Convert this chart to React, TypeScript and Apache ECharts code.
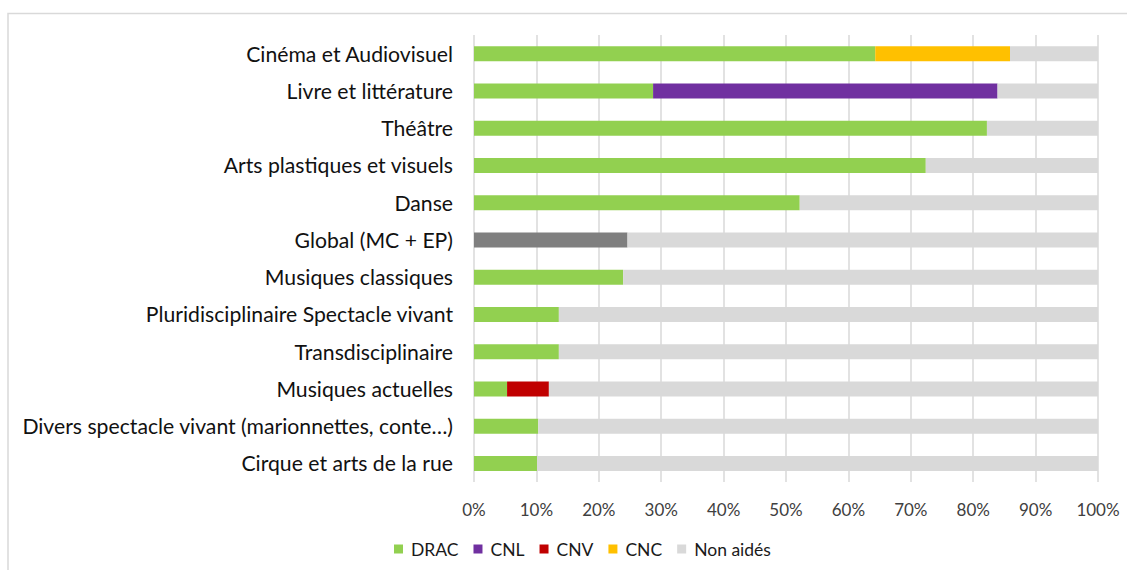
import React, { useEffect, useRef } from "react";
import * as echarts from "echarts";

const categories = [
  "Cinéma et Audiovisuel",
  "Livre et littérature",
  "Théâtre",
  "Arts plastiques et visuels",
  "Danse",
  "Global (MC + EP)",
  "Musiques classiques",
  "Pluridisciplinaire Spectacle vivant",
  "Transdisciplinaire",
  "Musiques actuelles",
  "Divers spectacle vivant (marionnettes, conte…)",
  "Cirque et arts de la rue",
];

const seriesNames = ["DRAC", "CNL", "CNV", "CNC", "Non aidés"];
const dracValues = [64.3, 28.7, 82.2, 72.4, 52.2, 24.6, 23.9, 13.6, 13.6, 5.3, 10.3, 10.1];
const cnlValues = [0, 55.2, 0, 0, 0, 0, 0, 0, 0, 0, 0, 0];
const cnvValues = [0, 0, 0, 0, 0, 0, 0, 0, 0, 6.7, 0, 0];
const cncValues = [21.6, 0, 0, 0, 0, 0, 0, 0, 0, 0, 0, 0];
const nonAidesValues = [14.1, 16.1, 17.8, 27.6, 47.8, 75.4, 76.1, 86.4, 86.4, 88.0, 89.7, 89.9];
const xTicks = [0, 10, 20, 30, 40, 50, 60, 70, 80, 90, 100];

const colors = ["#92d050", "#7030a0", "#c00000", "#ffc000", "#d9d9d9"];
const globalCategory = "Global (MC + EP)";
const globalColor = "#7f7f7f";
const FONT = "Lato";

export default function App() {
  const ref = useRef<HTMLDivElement>(null);
  useEffect(() => {
    if (!ref.current) return;
    const chart = echarts.init(ref.current, null, { renderer: "svg" });
    const valuesList = [dracValues, cnlValues, cnvValues, cncValues, nonAidesValues];
    const series = seriesNames.map((name, si) => ({
      name,
      type: "bar",
      stack: "total",
      barWidth: 15,
      itemStyle: { color: colors[si] },
      emphasis: { disabled: true },
      data: valuesList[si].map((v, i) =>
        si === 0 && categories[i] === globalCategory
          ? { value: v, itemStyle: { color: globalColor } }
          : v
      ),
    }));
    chart.setOption({
      animation: false,
      backgroundColor: "#ffffff",
      textStyle: { fontFamily: FONT },
      graphic: [
        {
          type: "rect",
          shape: { x: 8, y: 13.5, width: 1300, height: 700 },
          style: { fill: "none", stroke: "#d9d9d9", lineWidth: 1.5 },
          silent: true,
        },
      ],
      grid: { left: 474, right: 29, top: 35, bottom: 88 },
      legend: {
        left: 389,
        top: 535,
        itemWidth: 9,
        itemHeight: 9,
        itemGap: 15,
        icon: "rect",
        data: seriesNames,
        textStyle: { fontFamily: FONT, fontSize: 17.5, color: "#1a1a1a", padding: [0, 0, 0, 3] },
      },
      xAxis: {
        type: "value",
        min: xTicks[0],
        max: xTicks[xTicks.length - 1],
        interval: 10,
        axisLine: { show: false },
        axisTick: { show: false },
        axisLabel: {
          formatter: (v: number) => `${v}%`,
          fontFamily: FONT,
          fontSize: 17,
          color: "#404040",
          margin: 19,
        },
        splitLine: { show: true, lineStyle: { color: "#d9d9d9", width: 1.5 } },
      },
      yAxis: {
        type: "category",
        inverse: true,
        data: categories,
        axisLine: { show: false },
        axisTick: { show: false },
        axisLabel: { fontFamily: FONT, fontSize: 21.2, color: "#111111", margin: 21 },
        splitLine: { show: false },
      },
      series,
    });
    return () => chart.dispose();
  }, []);
  return (
    <div
      ref={ref}
      style={{ position: "fixed", left: 0, top: 0, width: 1127, height: 570, background: "#fff" }}
    />
  );
}
